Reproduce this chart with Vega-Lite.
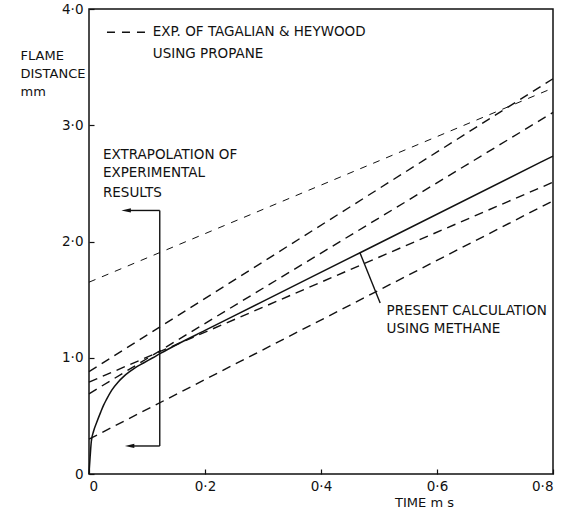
{
  "$schema": "https://vega.github.io/schema/vega-lite/v6.json",
  "width": 464,
  "height": 465,
  "autosize": {"type": "none"},
  "padding": {"left": 89, "top": 9, "right": 14, "bottom": 42},
  "background": "white",
  "config": {
    "view": {"stroke": "#111", "strokeWidth": 1.5},
    "font": "DejaVu Sans",
    "text": {"font": "DejaVu Sans", "fontSize": 13.5, "color": "#111"},
    "axis": {
      "grid": false, "domain": false, "tickColor": "#111", "tickSize": -5, "tickWidth": 1.2,
      "labelFont": "DejaVu Sans", "labelFontSize": 13.5, "labelColor": "#111",
      "titleFont": "DejaVu Sans", "titleFontWeight": "normal", "titleFontSize": 13, "titleColor": "#111"
    }
  },
  "datasets": {
    "lines": [
      {"series": "calc", "t": 0, "d": 0},
      {"series": "calc", "t": 0.002, "d": 0.15},
      {"series": "calc", "t": 0.004, "d": 0.28},
      {"series": "calc", "t": 0.008, "d": 0.37},
      {"series": "calc", "t": 0.013, "d": 0.44},
      {"series": "calc", "t": 0.02, "d": 0.53},
      {"series": "calc", "t": 0.025, "d": 0.59},
      {"series": "calc", "t": 0.03, "d": 0.64},
      {"series": "calc", "t": 0.039, "d": 0.72},
      {"series": "calc", "t": 0.05, "d": 0.79},
      {"series": "calc", "t": 0.06, "d": 0.84},
      {"series": "calc", "t": 0.07, "d": 0.88},
      {"series": "calc", "t": 0.08, "d": 0.915},
      {"series": "calc", "t": 0.094, "d": 0.955},
      {"series": "calc", "t": 0.11, "d": 1.0},
      {"series": "calc", "t": 0.124, "d": 1.04},
      {"series": "calc", "t": 0.15, "d": 1.11},
      {"series": "calc", "t": 0.2, "d": 1.235},
      {"series": "calc", "t": 0.3, "d": 1.485},
      {"series": "calc", "t": 0.47, "d": 1.91},
      {"series": "calc", "t": 0.8, "d": 2.735},
      {"series": "expA", "t": 0, "d": 0.88},
      {"series": "expA", "t": 0.8, "d": 3.4},
      {"series": "expB", "t": 0, "d": 0.69},
      {"series": "expB", "t": 0.8, "d": 3.11},
      {"series": "expC", "t": 0, "d": 0.79},
      {"series": "expC", "t": 0.8, "d": 2.51},
      {"series": "expD", "t": 0, "d": 0.3},
      {"series": "expD", "t": 0.8, "d": 2.35},
      {"series": "extrap", "t": 0, "d": 1.65},
      {"series": "extrap", "t": 0.8, "d": 3.32}
    ],
    "segments": [
      {"t": 0.122, "d": 2.267, "t2": 0.122, "d2": 0.241},
      {"t": 0.07, "d": 2.267, "t2": 0.122, "d2": 2.267},
      {"t": 0.076, "d": 0.241, "t2": 0.122, "d2": 0.241},
      {"t": 0.502, "d": 1.47, "t2": 0.467, "d2": 1.905}
    ],
    "heads": [
      {"t": 0.064, "d": 2.267},
      {"t": 0.07, "d": 0.241}
    ],
    "legendDash": [
      {"t": 0.031, "d": 3.8, "t2": 0.103}
    ],
    "labels": [
      {"t": 0.11, "d": 3.8, "text": "EXP. OF TAGALIAN & HEYWOOD"},
      {"t": 0.11, "d": 3.61, "text": "USING PROPANE"},
      {"t": 0.024, "d": 2.74, "text": "EXTRAPOLATION OF"},
      {"t": 0.024, "d": 2.586, "text": "EXPERIMENTAL"},
      {"t": 0.024, "d": 2.414, "text": "RESULTS"},
      {"t": 0.513, "d": 1.405, "text": "PRESENT CALCULATION"},
      {"t": 0.513, "d": 1.25, "text": "USING METHANE"}
    ]
  },
  "layer": [
    {
      "data": {"name": "lines"},
      "transform": [{"filter": "datum.series == 'calc'"}],
      "mark": {"type": "line", "color": "#111", "strokeWidth": 1.5, "interpolate": "monotone"},
      "encoding": {
        "x": {
          "field": "t", "type": "quantitative",
          "scale": {"domain": [0, 0.8], "nice": false},
          "axis": {
            "values": [0, 0.2, 0.4, 0.6, 0.8],
            "labelExpr": "datum.value == 0 ? '0' : replace(format(datum.value, '.1f'), '.', '·')",
            "labelPadding": 10,
            "title": "TIME m s",
            "titleAnchor": "start", "titleAlign": "center",
            "titleX": 335, "titleY": 22, "titleBaseline": "top"
          }
        },
        "y": {
          "field": "d", "type": "quantitative",
          "scale": {"domain": [0, 4], "nice": false},
          "axis": {
            "values": [0, 1, 2, 3, 4],
            "labelExpr": "datum.value == 0 ? '0' : replace(format(datum.value, '.1f'), '.', '·')",
            "labelPadding": 11,
            "title": ["FLAME", "DISTANCE", "mm"],
            "titleAngle": 0, "titleAlign": "left", "titleBaseline": "top",
            "titleX": -69, "titleY": 40, "titleLineHeight": 18
          }
        }
      }
    },
    {
      "data": {"name": "lines"},
      "transform": [{"filter": "indexof(datum.series, 'exp') == 0"}],
      "mark": {"type": "line", "color": "#111", "strokeWidth": 1.4, "strokeDash": [9, 6]},
      "encoding": {
        "x": {"field": "t", "type": "quantitative"},
        "y": {"field": "d", "type": "quantitative"},
        "detail": {"field": "series"}
      }
    },
    {
      "data": {"name": "lines"},
      "transform": [{"filter": "datum.series == 'extrap'"}],
      "mark": {"type": "line", "color": "#111", "strokeWidth": 1.0, "strokeDash": [7, 7]},
      "encoding": {
        "x": {"field": "t", "type": "quantitative"},
        "y": {"field": "d", "type": "quantitative"}
      }
    },
    {
      "data": {"name": "legendDash"},
      "mark": {"type": "rule", "color": "#111", "strokeWidth": 1.3, "strokeDash": [8, 7]},
      "encoding": {
        "x": {"field": "t", "type": "quantitative"},
        "x2": {"field": "t2"},
        "y": {"field": "d", "type": "quantitative"}
      }
    },
    {
      "data": {"name": "segments"},
      "mark": {"type": "rule", "color": "#111", "strokeWidth": 1.4},
      "encoding": {
        "x": {"field": "t", "type": "quantitative"},
        "x2": {"field": "t2"},
        "y": {"field": "d", "type": "quantitative"},
        "y2": {"field": "d2"}
      }
    },
    {
      "data": {"name": "heads"},
      "mark": {"type": "point", "shape": "M1,-0.45L-1,0L1,0.45Z", "filled": true, "color": "#111", "opacity": 1, "size": 90},
      "encoding": {
        "x": {"field": "t", "type": "quantitative"},
        "y": {"field": "d", "type": "quantitative"}
      }
    },
    {
      "data": {"name": "labels"},
      "mark": {"type": "text", "align": "left", "baseline": "middle", "fontSize": 13.5},
      "encoding": {
        "x": {"field": "t", "type": "quantitative"},
        "y": {"field": "d", "type": "quantitative"},
        "text": {"field": "text"}
      }
    }
  ]
}
